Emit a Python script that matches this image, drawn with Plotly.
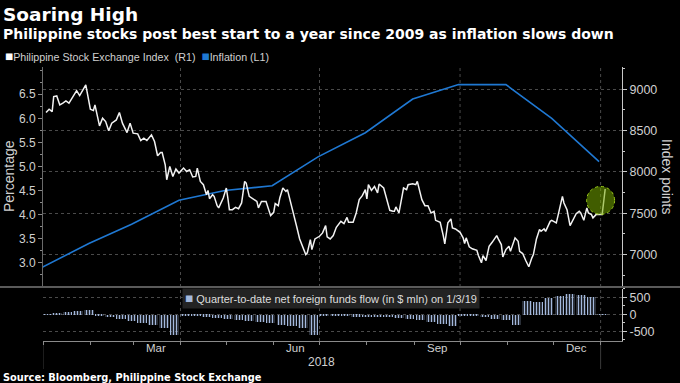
import plotly.graph_objects as go

# ---------------- data ----------------
psei_dates = [
    "2018-01-03","2018-01-05","2018-01-07","2018-01-08","2018-01-10","2018-01-12","2018-01-14","2018-01-16","2018-01-18","2018-01-21","2018-01-23","2018-01-25","2018-01-27","2018-01-29",
    "2018-02-01","2018-02-03","2018-02-04","2018-02-07","2018-02-09","2018-02-11","2018-02-13","2018-02-15","2018-02-18","2018-02-20","2018-02-22","2018-02-25","2018-02-27",
    "2018-03-01","2018-03-04","2018-03-06","2018-03-08","2018-03-10","2018-03-13","2018-03-15","2018-03-17","2018-03-19","2018-03-20","2018-03-22","2018-03-23","2018-03-25","2018-03-27","2018-03-29","2018-03-31",
    "2018-04-03","2018-04-05","2018-04-07","2018-04-09","2018-04-11","2018-04-12","2018-04-14","2018-04-16","2018-04-18","2018-04-19","2018-04-20","2018-04-22","2018-04-23","2018-04-25","2018-04-26","2018-04-29",
    "2018-05-01","2018-05-02","2018-05-03","2018-05-05","2018-05-07","2018-05-09","2018-05-11","2018-05-13","2018-05-14","2018-05-16","2018-05-19","2018-05-21","2018-05-22","2018-05-24","2018-05-27","2018-05-28","2018-05-30",
    "2018-06-01","2018-06-02","2018-06-04","2018-06-05","2018-06-07","2018-06-09","2018-06-10","2018-06-13","2018-06-16","2018-06-18","2018-06-20","2018-06-22","2018-06-23","2018-06-25","2018-06-26","2018-06-28",
    "2018-07-01","2018-07-03","2018-07-05","2018-07-06","2018-07-08","2018-07-10","2018-07-12","2018-07-15","2018-07-17","2018-07-19","2018-07-20","2018-07-23","2018-07-25","2018-07-27","2018-07-29","2018-07-31",
    "2018-08-01","2018-08-02","2018-08-04","2018-08-06","2018-08-08","2018-08-09","2018-08-12","2018-08-14","2018-08-16","2018-08-18","2018-08-19","2018-08-20","2018-08-22","2018-08-24","2018-08-25","2018-08-27","2018-08-28","2018-08-31",
    "2018-09-02","2018-09-03","2018-09-06","2018-09-08","2018-09-10","2018-09-12","2018-09-14","2018-09-15","2018-09-18","2018-09-20","2018-09-21","2018-09-23","2018-09-25","2018-09-26","2018-09-28",
    "2018-10-01","2018-10-03","2018-10-04","2018-10-05","2018-10-07","2018-10-09","2018-10-12","2018-10-13","2018-10-15","2018-10-16","2018-10-18","2018-10-20","2018-10-22","2018-10-25","2018-10-26","2018-10-28","2018-10-29","2018-10-31",
    "2018-11-02","2018-11-03","2018-11-06","2018-11-08","2018-11-09","2018-11-11","2018-11-13","2018-11-15","2018-11-17","2018-11-18","2018-11-20","2018-11-22","2018-11-23","2018-11-25","2018-11-26","2018-11-29","2018-11-30",
    "2018-12-03","2018-12-04","2018-12-05","2018-12-07","2018-12-08","2018-12-10","2018-12-12","2018-12-14","2018-12-16","2018-12-18","2018-12-19","2018-12-21","2018-12-23","2018-12-24","2018-12-26","2018-12-27","2018-12-29","2018-12-31",
    "2019-01-02","2019-01-04",
]
psei_values = [
    8718, 8759, 8730, 8911, 8919, 8810, 8831, 8859, 8831, 8919, 8983, 8923, 8992, 9052,
    8759, 8742, 8810, 8557, 8650, 8609, 8497, 8590, 8629, 8718, 8590, 8476, 8590,
    8469, 8460, 8380, 8409, 8380, 8448, 8368, 8195, 8235, 8235, 8086, 7905, 8066, 7945, 8034, 7986,
    8046, 8005, 8026, 7938, 7945, 8046, 7885, 7845, 7724, 7776, 7676, 7724, 7704, 7591, 7564, 7684,
    7805, 7684, 7543, 7543, 7571, 7555, 7624, 7885, 7865, 7704, 7664, 7643, 7564, 7643, 7643, 7583, 7471,
    7511, 7616, 7591, 7684, 7805, 7764, 7785, 7543, 7342, 7189, 7081, 7000, 7021, 7181, 7060, 7189,
    7221, 7262, 7350, 7214, 7189, 7229, 7330, 7402, 7374, 7450, 7390, 7390, 7503, 7664, 7712, 7785,
    7672, 7845, 7776, 7824, 7745, 7853, 7805, 7664, 7535, 7523, 7523, 7576, 7503, 7704, 7805, 7785, 7845, 7857,
    7845, 7885, 7664, 7591, 7591, 7503, 7523, 7414, 7390, 7229, 7129, 7383, 7431, 7322, 7310,
    7269, 7202, 7133, 7202, 7093, 7069, 7052, 6988, 6900, 6988, 6928, 7100, 7148, 7229, 7189, 7121, 6972, 7060,
    7100, 7040, 7202, 7161, 7040, 7012, 6928, 6852, 6960, 7000, 7189, 7302, 7281, 7310, 7281, 7402, 7414,
    7383, 7462, 7552, 7704, 7624, 7543, 7350, 7422, 7495, 7523, 7503, 7414, 7564, 7503, 7483, 7443, 7483, 7483,
    7483, 7793,
]

infl_dates = ["2017-12-31","2018-01-31","2018-02-28","2018-03-31","2018-04-30","2018-05-31",
              "2018-06-30","2018-07-31","2018-08-31","2018-09-30","2018-10-31","2018-11-30","2018-12-31"]
infl_values = [2.9, 3.4, 3.8, 4.3, 4.5, 4.6, 5.2, 5.7, 6.4, 6.7, 6.7, 6.0, 5.1]

flow_dates = [
    "2018-01-03","2018-01-10","2018-01-17","2018-01-24","2018-01-31","2018-02-07","2018-02-14","2018-02-21","2018-02-28",
    "2018-03-07","2018-03-14","2018-03-21","2018-03-28",
    "2018-04-04","2018-04-11","2018-04-18","2018-04-25","2018-05-02","2018-05-09","2018-05-16","2018-05-23","2018-05-30",
    "2018-06-06","2018-06-13","2018-06-20","2018-06-27",
    "2018-07-04","2018-07-11","2018-07-18","2018-07-25","2018-08-01","2018-08-08","2018-08-15","2018-08-22","2018-08-29",
    "2018-09-05","2018-09-12","2018-09-19","2018-09-26",
    "2018-10-03","2018-10-10","2018-10-17","2018-10-24","2018-10-31","2018-11-07","2018-11-14","2018-11-21","2018-11-28",
    "2018-12-05","2018-12-12","2018-12-19","2018-12-26","2019-01-02",
]
flow_values = [
    15, 50, 80, 110, 140, -30, -75, -120, -180, -250, -310, -400, -580,
    -10, -30, -55, -85, -110, -140, -180, -215, -250, -290, -320, -390, -590,
    -10, -25, -40, -55, -75, -65, -60, -95, -130, -160, -200, -260, -320,
    -10, -40, -70, -110, -150, -290, 400, 370, 500, 540, 610, 570, 520,
    15,
]

month_labels = ["Mar", "Jun", "Sep", "Dec"]
month_label_pos = ["2018-03-16", "2018-06-15", "2018-09-16", "2018-12-16"]
month_starts = ["2018-%02d-01" % m for m in range(1, 13)] + ["2019-01-01"]
quarter_lines = ["2018-04-01", "2018-07-01", "2018-10-01", "2019-01-01"]

# ---------------- geometry helpers (pixels -> paper) ----------------
W, H = 680, 383
L, R, T, B = 43, 58, 67, 42
PW, PH = W - L - R, H - T - B

def px(xp):
    return (xp - L) / PW

def py(yp):
    return (H - B - yp) / PH

SEP_Y = 287
top_dom = [py(SEP_Y) + 0.002, 1.0]
bot_dom = [0.0, py(SEP_Y + 1) - 0.002]

BLUE = "#1f78d2"
BAR = "#a3b8dc"
GRID = "#4a4a4a"
TXT = "#d0d0d0"
FONT = "Liberation Sans, Arial, sans-serif"

fig = go.Figure()

fig.add_trace(go.Scatter(x=infl_dates, y=infl_values, mode="lines",
                         line=dict(color=BLUE, width=1.6), yaxis="y", xaxis="x",
                         name="Inflation (L1)", showlegend=False))
fig.add_trace(go.Scatter(x=psei_dates, y=psei_values, mode="lines",
                         line=dict(color="#f2f2f2", width=1.5), yaxis="y2", xaxis="x",
                         name="Philippine Stock Exchange Index (R1)", showlegend=False))
fig.add_trace(go.Bar(x=flow_dates, y=flow_values, yaxis="y3", xaxis="x",
                     width=6.3 * 86400000,
                     marker=dict(color=BAR, line=dict(width=0),
                                 pattern=dict(shape="|", size=3, solidity=0.5, fillmode="replace")),
                     showlegend=False))

fig.update_layout(
    width=W, height=H, autosize=False,
    margin=dict(l=L, r=R, t=T, b=B),
    paper_bgcolor="black", plot_bgcolor="black",
    font=dict(family=FONT, color=TXT, size=12),
    bargap=0,
    xaxis=dict(
        type="date", range=["2018-01-01", "2019-01-15"], domain=[0, 1], anchor="y3",
        tickmode="array", tickvals=month_starts, showticklabels=False,
        ticks="outside", ticklen=3, tickcolor="#8a8a8a", showgrid=False, zeroline=False,
        showline=True, linecolor="#8a8a8a", linewidth=1,
    ),
    yaxis=dict(
        domain=top_dom, range=[2.509, 7.065], side="left", anchor="x",
        tickmode="array", tickvals=[3.0, 3.5, 4.0, 4.5, 5.0, 5.5, 6.0, 6.5],
        ticktext=["3.0", "3.5", "4.0", "4.5", "5.0", "5.5", "6.0", "6.5"],
        ticks="outside", ticklen=4, tickcolor="#8a8a8a",
        showgrid=False, zeroline=False, showline=True, linecolor="#6a6a6a",
        tickfont=dict(size=12, color=TXT),
        minor=dict(dtick=0.25, tick0=0, ticks="outside", ticklen=2, tickcolor="#8a8a8a"),
    ),
    yaxis2=dict(
        overlaying="y", side="right", anchor="x", range=[6614, 9269],
        tickmode="array", tickvals=[7000, 7500, 8000, 8500, 9000],
        ticks="outside", ticklen=4, tickcolor="#c8c8c8",
        showgrid=True, gridcolor=GRID, griddash="dot", gridwidth=1,
        zeroline=False, showline=True, linecolor="#c8c8c8", linewidth=1,
        tickfont=dict(size=12.5, color=TXT),
        minor=dict(dtick=250, tick0=0, ticks="outside", ticklen=2, tickcolor="#c8c8c8"),
    ),
    yaxis3=dict(
        domain=bot_dom, side="right", anchor="x", range=[-780, 751],
        tickmode="array", tickvals=[-500, 0, 500], ticktext=["-500", "0", "500"],
        ticks="outside", ticklen=4, tickcolor="#c8c8c8",
        showgrid=True, gridcolor=GRID, griddash="dot", gridwidth=1,
        zeroline=False, showline=True, linecolor="#c8c8c8", linewidth=1,
        tickfont=dict(size=12.5, color=TXT),
        minor=dict(dtick=250, tick0=0, ticks="outside", ticklen=2, tickcolor="#c8c8c8"),
    ),
)

shapes = []
for q in quarter_lines:
    shapes.append(dict(type="line", xref="x", yref="paper", x0=q, x1=q, y0=0, y1=1,
                       line=dict(color=GRID, width=1, dash="dot"), layer="below"))
for q in ["2018-01-01", "2019-01-01"]:
    shapes.append(dict(type="line", xref="x", yref="paper", x0=q, x1=q, y0=py(369), y1=0,
                       line=dict(color="#3a3a3a", width=1), layer="below"))
# panel separator
shapes.append(dict(type="line", xref="paper", yref="paper", x0=px(0), x1=px(W), y0=py(SEP_Y), y1=py(SEP_Y),
                   line=dict(color="#5a5a5a", width=2)))
# highlight circle around the latest move
shapes.append(dict(type="circle", xref="x", yref="y2", xsizemode="pixel", ysizemode="pixel",
                   xanchor="2019-01-01", yanchor=7655, x0=-14, x1=14, y0=-14, y1=14,
                   fillcolor="rgba(118,170,0,0.55)", line=dict(color="#9ccc1a", width=1, dash="dot"),
                   layer="above"))
fig.update_layout(shapes=shapes)

SQ = "<span style='color:%s;font-size:13.5px'>■</span>"

ann = []
ann.append(dict(text="<b>Soaring High</b>", xref="paper", yref="paper", x=px(1), y=py(14),
                xanchor="left", yanchor="middle", showarrow=False,
                font=dict(family="DejaVu Sans", size=18.5, color="white")))
ann.append(dict(text="<b>Philippine stocks post best start to a year since 2009 as inflation slows down</b>",
                xref="paper", yref="paper", x=px(1), y=py(34), xanchor="left", yanchor="middle",
                showarrow=False, font=dict(family="DejaVu Sans", size=14, color="white")))
ann.append(dict(text=(SQ % "#ffffff") + "Philippine Stock Exchange Index&nbsp;&nbsp;(R1)&nbsp;&nbsp;"
                     + (SQ % BLUE) + "Inflation (L1)",
                xref="paper", yref="paper", x=px(3), y=py(57), xanchor="left", yanchor="middle",
                showarrow=False, font=dict(family=FONT, size=10.7, color=TXT)))
ann.append(dict(text=(SQ % BAR) + " Quarter-to-date net foreign funds flow (in $ mln) on 1/3/19",
                xref="paper", yref="paper", x=px(182), y=py(298.5), xanchor="left", yanchor="middle",
                showarrow=False, bgcolor="#232323", borderpad=2,
                font=dict(family=FONT, size=11, color="#dddddd")))
ann.append(dict(text="Percentage", xref="paper", yref="paper", x=px(9), y=py(176),
                xanchor="center", yanchor="middle", textangle=-90, showarrow=False,
                font=dict(family=FONT, size=14, color=TXT)))
ann.append(dict(text="Index points", xref="paper", yref="paper", x=px(667), y=py(177),
                xanchor="center", yanchor="middle", textangle=90, showarrow=False,
                font=dict(family=FONT, size=14, color=TXT)))
for lab, pos in zip(month_labels, month_label_pos):
    ann.append(dict(text=lab, xref="x", yref="paper", x=pos, y=py(348),
                    xanchor="center", yanchor="middle", showarrow=False,
                    font=dict(family=FONT, size=11.5, color=TXT)))
ann.append(dict(text="2018", xref="x", yref="paper", x="2018-07-02", y=py(362),
                xanchor="center", yanchor="middle", showarrow=False,
                font=dict(family=FONT, size=12, color=TXT)))
ann.append(dict(text="<b>Source: Bloomberg, Philippine Stock Exchange</b>", xref="paper", yref="paper",
                x=px(1), y=py(377), xanchor="left", yanchor="middle", showarrow=False,
                font=dict(family="DejaVu Sans", size=9.8, color="white")))
fig.update_layout(annotations=ann)

fig.write_html("out.html", config={"displayModeBar": False},
               post_script="document.body.style.margin='0px';document.body.style.overflow='hidden';")
